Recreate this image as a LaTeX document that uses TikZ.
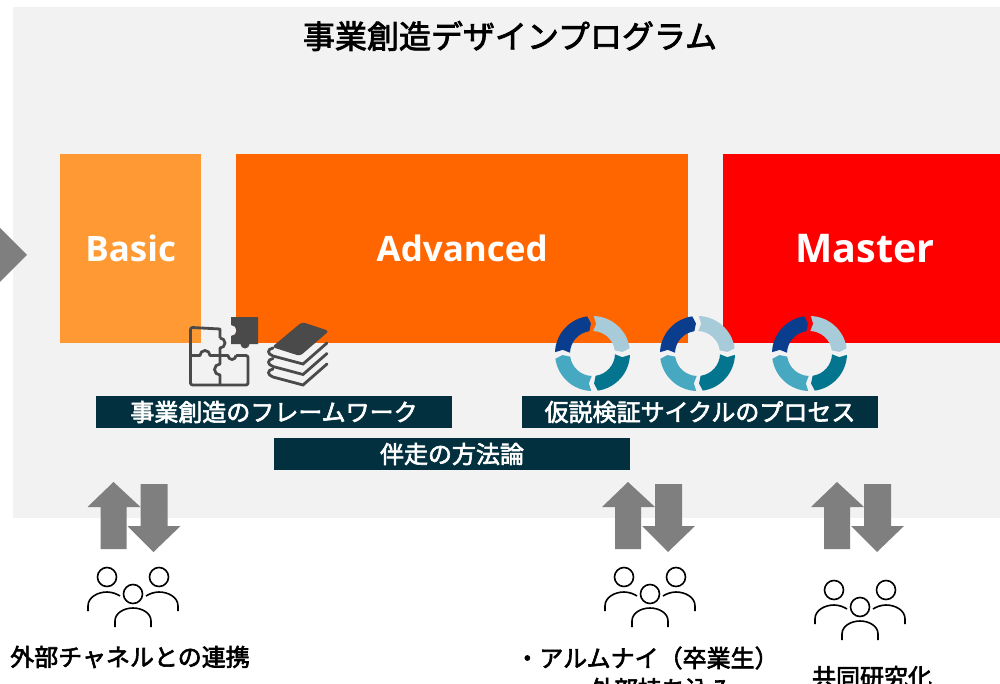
\documentclass[tikz,border=0pt]{standalone}
\usepackage{fontspec}
\setmainfont{Open Sans}
\newfontfamily\cjk[FakeBold=2.5]{Noto Sans CJK JP}
\definecolor{panelgray}{HTML}{F2F2F2}
\definecolor{basicorange}{HTML}{FF9933}
\definecolor{advorange}{HTML}{FF6600}
\definecolor{masterred}{HTML}{FF0000}
\definecolor{navybar}{HTML}{03303F}
\definecolor{arrowgray}{HTML}{7F7F7F}
\definecolor{icongray}{HTML}{4A4A4A}
\definecolor{ringa}{HTML}{0B3D8F}
\definecolor{ringb}{HTML}{A8CBDA}
\definecolor{ringc}{HTML}{04758F}
\definecolor{ringd}{HTML}{46A9C1}
\tikzset{
    level/.style={fill=#1, minimum height=189pt, inner sep=0pt, anchor=north west, text=white},
    bar/.style={fill=navybar, text=white, inner sep=0pt, minimum width=356pt, minimum height=32pt, font=\cjk\fontsize{24}{26}\selectfont},
    caption/.style={text=black, inner sep=0pt, font=\cjk\fontsize{24}{26}\selectfont},
    pers/.style={line width=1.6pt, black},
    puzzleline/.style={icongray, line width=2.8pt, line join=round},
    updown/.pic={
        \fill[arrowgray] (-20,0) -- (7,25) -- (-7,25) -- (-7,67) -- (-33,67) -- (-33,25) -- (-46,25) -- cycle;
        \fill[arrowgray] (7,2) -- (34,2) -- (34,44) -- (47,44) -- (20,70) -- (-6,44) -- (7,44) -- cycle;
    },
    people/.pic={
        \draw[pers] (-26,-17) circle (9.5) (26,-17) circle (9.5) (0,0) circle (9.5);
        \draw[pers] (-45,17) -- (-45,12) .. controls (-45,3) and (-35,-2) .. (-26,-2) .. controls (-21,-2) and (-16,0) .. (-13,2);
        \draw[pers] (45,17) -- (45,12) .. controls (45,3) and (35,-2) .. (26,-2) .. controls (21,-2) and (16,0) .. (13,2);
        \draw[pers] (-18,33) -- (-18,27) .. controls (-18,19) and (-9,14) .. (0,14) .. controls (9,14) and (18,19) .. (18,27) -- (18,33);
    },
    ringpic/.pic={
        \foreach \s/\c in {182/ringa,272/ringb,2/ringc,92/ringd} {
            \fill[\c] (\s:37.5) arc[start angle=\s, end angle=\s+80, radius=37.5]
                -- (\s+85:30) -- (\s+80:22.5) arc[start angle=\s+80, end angle=\s, radius=22.5]
                -- (\s+5:30) -- cycle;
        }
    }
}
\begin{document}
\begin{tikzpicture}[x=1pt,y=-1pt]
    \clip (0,0) rectangle (1000,684);
    \fill[white] (0,0) rectangle (1000,684);
    \fill[panelgray] (13,7) rectangle (1000,518);
    \node[inner sep=0pt, font=\cjk\fontsize{32}{34}\selectfont] (title) at (510,36) {事業創造デザインプログラム};
    % levels
    \node[level=basicorange, minimum width=141pt, font=\bfseries\fontsize{35}{37}\selectfont] (basic) at (60,154) {\raisebox{-1pt}{Basic}};
    \node[level=advorange, minimum width=452pt, font=\bfseries\fontsize{35}{37}\selectfont] (advanced) at (236,154) {\raisebox{-1pt}{Advanced}};
    \node[level=masterred, minimum width=284pt, font=\bfseries\fontsize{39.5}{41}\selectfont] (master) at (723,154) {\raisebox{-2pt}{Master}};
    \fill[arrowgray] (-20,228) -- (0,228) -- (27,255) -- (0,282) -- (-20,282) -- cycle;
    % puzzle icon
    \draw[puzzleline] (220,338) -- (220,329) -- (192,327.5) [rounded corners=2pt] -- (190.5,327.5) -- (190.5,385) -- (248,385) -- (248,355.5) [sharp corners] -- (236,355.5);
    \draw[puzzleline] (220,338) arc[start angle=-90, end angle=90, radius=5] -- (220,355.5);
    \draw[puzzleline] (190.5,355.5) -- (200,355.5) arc[start angle=180, end angle=360, radius=5] -- (228,355.5) arc[start angle=180, end angle=0, radius=4];
    \draw[puzzleline] (220,355.5) -- (220,364) arc[start angle=-90, end angle=-270, radius=5.5] -- (220,385);
    \fill[icongray] (231,317) -- (258,317) -- (258,344) -- (249.5,344) arc[start angle=0, end angle=180, radius=4.5] -- (231,344) -- (231,336) arc[start angle=90, end angle=-90, radius=5.5] -- cycle;
    % books icon
    \fill[icongray, rounded corners=3pt] (302,322) -- (329,331) -- (300,356) -- (272,347) -- cycle;
    \foreach \dy in {0,10.5,21} {
        \draw[icongray, line width=2.8pt, line cap=round] (327,343+\dy) -- (303,364+\dy) -- (273,356+\dy)
            .. controls (267,354+\dy) and (267,349+\dy) .. (273,348+\dy);
    }
    % ring icons
    \pic at (592.5,353.5) {ringpic};
    \pic at (697.5,353.5) {ringpic};
    \pic at (809.5,353.5) {ringpic};
    % bars
    \node[bar] (framework) at (274,412) {事業創造のフレームワーク};
    \node[bar] (process) at (700,412) {仮説検証サイクルのプロセス};
    \node[bar] (method) at (452,454) {伴走の方法論};
    % arrows and people
    \pic at (133.5,482) {updown};
    \pic at (648,482) {updown};
    \pic at (857,482) {updown};
    \pic at (133,594) {people};
    \pic at (650,594) {people};
    \pic at (860,607) {people};
    % captions
    \node[caption] (channel) at (130,657) {外部チャネルとの連携};
    \node[caption] (alumni) at (647,658) {・アルムナイ（卒業生）};
    \node[caption] (inbound) at (662,689) {外部持ち込み};
    \node[caption] (joint) at (872,677) {共同研究化};
\end{tikzpicture}
\end{document}
